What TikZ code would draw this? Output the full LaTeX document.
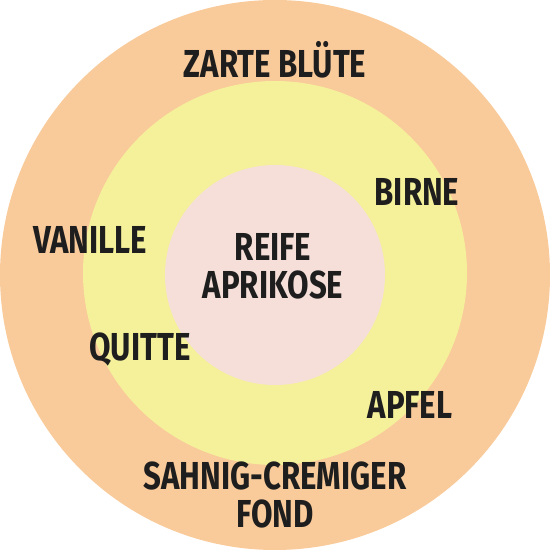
\documentclass[tikz,border=0pt]{standalone}
\usepackage{fontspec}
\setmainfont{Fira Sans}[FakeStretch=0.8]
\usetikzlibrary{positioning}
\definecolor{ringorange}{HTML}{F9CA9A}
\definecolor{ringyellow}{HTML}{F5F09A}
\definecolor{corepink}{HTML}{F5DFD8}
\definecolor{labtext}{HTML}{1E1E1E}
\tikzset{
  ring/.style={circle, draw=none, inner sep=0pt},
  aroma/.style={font=\fontsize{39}{38}\selectfont\bfseries, text=labtext,
    align=center, inner sep=0pt},
}
\begin{document}
\begin{tikzpicture}[x=1pt, y=1pt]
    \useasboundingbox (0,0) rectangle (550,550);
    % rings
    \node[ring, fill=ringorange, minimum size=550pt] (outer) at (275,275) {};
    \node[ring, fill=ringyellow, minimum size=384pt] (middle) at (275,277) {};
    \node[ring, fill=corepink, minimum size=220pt] (core) at (275,275) {};
    % outer ring
    \node[aroma] (bluete) at (275,490) {ZARTE BLÜTE};
    \node[aroma] (vanille) at (90,310) {VANILLE};
    \node[aroma] (fond) at (275,55) {SAHNIG-CREMIGER\\FOND};
    % middle ring
    \node[aroma] (birne) at (417,358) {BIRNE};
    \node[aroma] (quitte) at (140,200) {QUITTE};
    \node[aroma] (apfel) at (410,145) {APFEL};
    % core
    \node[aroma] (aprikose) at (273,284) {REIFE\\APRIKOSE};
\end{tikzpicture}
\end{document}
